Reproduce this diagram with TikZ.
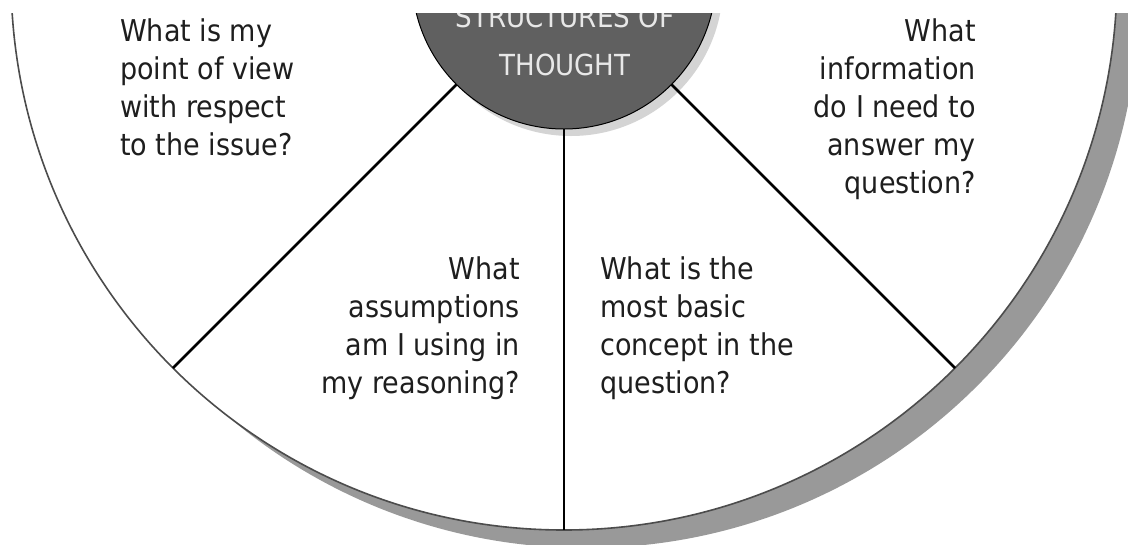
\documentclass[tikz,border=0pt]{standalone}
\usepackage{fontspec}
\setmainfont{DejaVu Sans}[FakeStretch=0.9]
\usepackage{tikz}

\definecolor{rimshadow}{RGB}{153,153,153}
\definecolor{hubgray}{RGB}{96,96,96}
\definecolor{hubshade}{RGB}{212,212,212}
\definecolor{inkgray}{RGB}{30,30,30}
\definecolor{titlegray}{RGB}{232,232,232}

\begin{document}
\begin{tikzpicture}[x=1pt, y=1pt,
    question/.style={inner sep=0pt, text=inkgray, font=\fontsize{30}{38}\selectfont},
    spoke/.style={line width=2.5pt, black},
    hubstyle/.style={circle, draw=black, line width=1pt, fill=hubgray, minimum size=304pt, inner sep=0pt},
    titletext/.style={inner sep=0pt, text=titlegray, align=center, font=\fontsize{29}{48}\selectfont}]
            \useasboundingbox (-564,-567) rectangle (564,-23);
            \clip (-564,-567) rectangle (564,-36);

            % Rad
            \fill[rimshadow] (22,-18) circle (553);
            \draw[fill=white, line width=1.6pt, draw=black!70] (0,0) circle (553);
            \fill[hubshade] (7,-7) circle (152);

            % Puntos
            \coordinate (axle) at (0,0);
            \coordinate (rimA) at (225:553);
            \coordinate (rimB) at (270:553);
            \coordinate (rimC) at (315:553);

            % Radios
            \draw[spoke] (axle) -- (rimA);
            \draw[spoke] (axle) -- (rimB);
            \draw[spoke] (axle) -- (rimC);

            % Centro
            \node[hubstyle] (hub) at (axle) {};
            \node[titletext, anchor=south] (title) at (1,-99) {STRUCTURES OF\\THOUGHT};

            % Preguntas
            \node[question, align=left, anchor=north west] (pointview) at (-444,-42)
                {What is my\\point of view\\with respect\\to the issue?};
            \node[question, align=right, anchor=north east] (information) at (412,-42)
                {What\\information\\do I need to\\answer my\\question?};
            \node[question, align=right, anchor=north east] (assumptions) at (-44,-280)
                {What\\assumptions\\am I using in\\my reasoning?};
            \node[question, align=left, anchor=north west] (concept) at (36,-280)
                {What is the\\most basic\\concept in the\\question?};
          \end{tikzpicture}
\end{document}
